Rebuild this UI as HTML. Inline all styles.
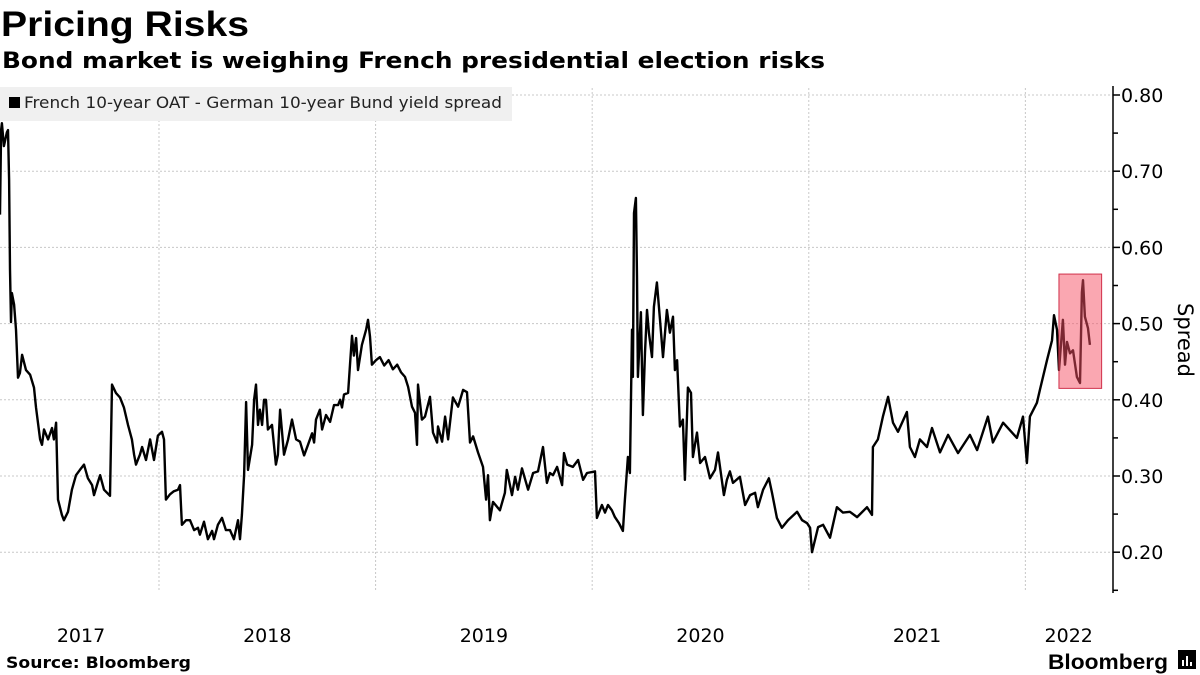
<!DOCTYPE html>
<html><head><meta charset="utf-8"><style>
body{margin:0;background:#fff;width:1200px;height:675px;overflow:hidden;font-family:"Liberation Sans",sans-serif}
svg{display:block}
</style></head><body>
<svg id="chart" width="1200" height="675">
<text x="1" y="36" font-size="35" font-weight="bold" font-family="Liberation Sans" textLength="248" lengthAdjust="spacingAndGlyphs">Pricing Risks</text>
<text x="2" y="68" font-size="22" font-weight="bold" font-family="DejaVu Sans" textLength="823" lengthAdjust="spacingAndGlyphs">Bond market is weighing French presidential election risks</text>
<g id="grid"></g>
<rect x="0" y="87" width="512" height="34" fill="#f0f0f0"/>
<rect x="9" y="97" width="11" height="11" fill="#000"/>
<text x="24" y="108" font-size="16" font-family="DejaVu Sans" fill="#222" textLength="478" lengthAdjust="spacingAndGlyphs">French 10-year OAT - German 10-year Bund yield spread</text>
<g id="marks"></g>
<g id="axis"></g>
<text transform="translate(1178,340) rotate(90)" font-size="21" text-anchor="middle" font-family="DejaVu Sans">Spread</text>
<text x="6" y="668" font-size="16" font-weight="bold" font-family="DejaVu Sans" textLength="185" lengthAdjust="spacingAndGlyphs">Source: Bloomberg</text>
<text x="1048" y="669" font-size="21" font-weight="bold" font-family="Liberation Sans" textLength="120" lengthAdjust="spacingAndGlyphs">Bloomberg</text>
<g>
<rect x="1178" y="650" width="18" height="19" fill="#000"/>
<rect x="1182" y="660" width="2" height="6" fill="#fff"/><rect x="1186" y="656" width="2" height="10" fill="#fff"/><rect x="1190" y="662" width="2" height="4" fill="#fff"/>
</g>
</svg>
<script>
const dates=[2017.266,2017.271,2017.275,2017.284,2017.298,2017.303,2017.308,2017.312,2017.317,2017.321,2017.331,2017.340,2017.349,2017.358,2017.368,2017.386,2017.405,2017.423,2017.432,2017.451,2017.460,2017.469,2017.488,2017.506,2017.515,2017.525,2017.534,2017.552,2017.561,2017.580,2017.598,2017.617,2017.635,2017.654,2017.672,2017.691,2017.700,2017.718,2017.728,2017.746,2017.774,2017.783,2017.801,2017.820,2017.838,2017.857,2017.875,2017.885,2017.894,2017.912,2017.922,2017.940,2017.959,2017.977,2017.995,2018.014,2018.023,2018.032,2018.051,2018.069,2018.088,2018.097,2018.106,2018.125,2018.143,2018.162,2018.180,2018.189,2018.208,2018.226,2018.245,2018.254,2018.272,2018.291,2018.309,2018.328,2018.346,2018.365,2018.374,2018.383,2018.393,2018.402,2018.411,2018.430,2018.439,2018.448,2018.457,2018.466,2018.476,2018.485,2018.494,2018.503,2018.522,2018.540,2018.549,2018.559,2018.577,2018.596,2018.614,2018.633,2018.651,2018.670,2018.688,2018.707,2018.716,2018.725,2018.743,2018.753,2018.771,2018.790,2018.808,2018.827,2018.836,2018.845,2018.854,2018.873,2018.882,2018.891,2018.900,2018.910,2018.919,2018.937,2018.956,2018.965,2018.974,2018.983,2019.002,2019.020,2019.040,2019.060,2019.080,2019.100,2019.118,2019.136,2019.150,2019.168,2019.182,2019.191,2019.196,2019.214,2019.228,2019.251,2019.265,2019.284,2019.288,2019.307,2019.321,2019.335,2019.357,2019.381,2019.404,2019.422,2019.436,2019.450,2019.473,2019.496,2019.510,2019.519,2019.528,2019.542,2019.574,2019.597,2019.606,2019.630,2019.644,2019.657,2019.676,2019.704,2019.727,2019.750,2019.773,2019.791,2019.805,2019.819,2019.838,2019.861,2019.870,2019.884,2019.911,2019.935,2019.958,2019.976,2020.013,2020.022,2020.045,2020.059,2020.073,2020.091,2020.105,2020.124,2020.142,2020.151,2020.165,2020.174,2020.184,2020.188,2020.193,2020.202,2020.207,2020.211,2020.225,2020.234,2020.244,2020.253,2020.262,2020.276,2020.285,2020.299,2020.313,2020.327,2020.345,2020.359,2020.373,2020.382,2020.392,2020.405,2020.419,2020.428,2020.442,2020.456,2020.465,2020.484,2020.498,2020.521,2020.544,2020.567,2020.581,2020.608,2020.622,2020.636,2020.650,2020.682,2020.706,2020.729,2020.752,2020.765,2020.789,2020.816,2020.830,2020.853,2020.876,2020.904,2020.946,2020.969,2020.992,2021.006,2021.015,2021.043,2021.066,2021.098,2021.130,2021.158,2021.190,2021.223,2021.269,2021.292,2021.296,2021.319,2021.342,2021.366,2021.389,2021.412,2021.453,2021.467,2021.490,2021.513,2021.546,2021.569,2021.606,2021.643,2021.689,2021.744,2021.777,2021.827,2021.850,2021.897,2021.961,2021.989,2022.007,2022.021,2022.053,2022.067,2022.100,2022.123,2022.132,2022.146,2022.155,2022.173,2022.183,2022.192,2022.206,2022.220,2022.238,2022.252,2022.261,2022.266,2022.275,2022.289,2022.298];
const spread=[0.643,0.754,0.763,0.733,0.751,0.754,0.689,0.571,0.502,0.540,0.525,0.492,0.429,0.435,0.459,0.439,0.433,0.416,0.390,0.348,0.341,0.361,0.348,0.363,0.348,0.370,0.269,0.249,0.242,0.253,0.282,0.301,0.308,0.315,0.297,0.288,0.275,0.292,0.301,0.282,0.274,0.420,0.409,0.403,0.390,0.367,0.348,0.328,0.315,0.328,0.338,0.321,0.348,0.321,0.353,0.358,0.348,0.269,0.276,0.280,0.282,0.288,0.236,0.242,0.242,0.229,0.232,0.223,0.240,0.217,0.228,0.217,0.236,0.245,0.229,0.229,0.217,0.242,0.217,0.249,0.301,0.397,0.308,0.341,0.400,0.420,0.367,0.387,0.367,0.400,0.400,0.361,0.367,0.315,0.328,0.387,0.328,0.348,0.374,0.348,0.345,0.327,0.341,0.356,0.344,0.374,0.387,0.361,0.380,0.371,0.393,0.393,0.400,0.390,0.407,0.409,0.446,0.484,0.458,0.481,0.439,0.472,0.492,0.505,0.483,0.446,0.452,0.456,0.445,0.452,0.440,0.446,0.436,0.430,0.417,0.391,0.383,0.341,0.420,0.374,0.378,0.404,0.357,0.344,0.365,0.345,0.378,0.348,0.403,0.391,0.413,0.410,0.344,0.352,0.331,0.312,0.269,0.301,0.242,0.266,0.255,0.278,0.308,0.275,0.299,0.282,0.310,0.282,0.304,0.306,0.338,0.291,0.304,0.301,0.312,0.288,0.330,0.315,0.312,0.321,0.295,0.304,0.306,0.245,0.262,0.252,0.262,0.255,0.246,0.238,0.228,0.269,0.325,0.304,0.492,0.430,0.645,0.665,0.561,0.430,0.515,0.380,0.462,0.518,0.488,0.456,0.522,0.554,0.505,0.456,0.518,0.488,0.509,0.439,0.452,0.365,0.374,0.295,0.416,0.409,0.325,0.357,0.317,0.325,0.297,0.308,0.331,0.275,0.295,0.306,0.291,0.299,0.262,0.275,0.278,0.259,0.282,0.297,0.278,0.245,0.232,0.242,0.253,0.242,0.238,0.232,0.200,0.233,0.236,0.219,0.259,0.252,0.253,0.246,0.259,0.249,0.338,0.348,0.378,0.404,0.370,0.358,0.384,0.338,0.325,0.348,0.338,0.363,0.331,0.354,0.330,0.354,0.334,0.378,0.344,0.370,0.350,0.378,0.317,0.378,0.396,0.413,0.452,0.478,0.511,0.492,0.439,0.505,0.446,0.476,0.461,0.465,0.430,0.422,0.541,0.557,0.509,0.494,0.472];
const yTicks=[0.20,0.30,0.40,0.50,0.60,0.70,0.80];
const yMinor=[0.15,0.25,0.35,0.45,0.55,0.65,0.75];
const yearTicks=[2018,2019,2020,2021,2022];
const yearLabels=["2017","2018","2019","2020","2021","2022"];
const yearLabelPos=[2017.64,2018.5,2019.5,2020.5,2021.5,2022.2];
const highlightRange=[2022.155,2022.352];
const highlightValues=[0.415,0.565];

const NS="http://www.w3.org/2000/svg";
const X0=2017.266, PX=216.6, AXX=1113;
const xs=d=>(d-X0)*PX;
const ys=v=>704.6-v*762;
function mk(tag,attrs,parent){const e=document.createElementNS(NS,tag);for(const k in attrs)e.setAttribute(k,attrs[k]);parent.appendChild(e);return e;}
const grid=document.getElementById('grid'),marks=document.getElementById('marks'),axis=document.getElementById('axis');
yTicks.forEach(v=>{
  const l=mk('line',{x1:0,x2:AXX,y1:ys(v),y2:ys(v),stroke:'#c8c8c8','stroke-dasharray':'2,2'},grid);
  
  
  const t=mk('line',{x1:AXX,x2:AXX+7,y1:ys(v),y2:ys(v),stroke:'#000','stroke-width':1.5},axis);
  
  
  const tx=mk('text',{x:AXX+8,y:ys(v)+7,'font-size':19,'font-family':'DejaVu Sans'},axis);
  tx.textContent=v.toFixed(2);
  
  
});
yMinor.forEach(v=>{
  const t=mk('line',{x1:AXX,x2:AXX+5,y1:ys(v),y2:ys(v),stroke:'#000','stroke-width':1.5},axis);
  
  
});
yearTicks.forEach(d=>{
  const l=mk('line',{x1:xs(d),x2:xs(d),y1:88,y2:592,stroke:'#c8c8c8','stroke-dasharray':'2,2'},grid);
  
  
});
yearLabels.forEach((s,i)=>{
  const t=mk('text',{x:xs(yearLabelPos[i]),y:642,'font-size':19,'text-anchor':'middle','font-family':'DejaVu Sans'},axis);
  t.textContent=s;
  
  
});
const ax=mk('line',{x1:AXX,x2:AXX,y1:86,y2:593,stroke:'#000','stroke-width':1.5},axis);


const path=mk('path',{d:dates.map((d,i)=>(i?'L':'M')+xs(d).toFixed(1)+','+ys(spread[i]).toFixed(1)).join(''),fill:'none',stroke:'#000','stroke-width':2.4,'stroke-linejoin':'round'},marks);


const hr=mk('rect',{x:xs(highlightRange[0]),y:ys(highlightValues[1]),width:xs(highlightRange[1])-xs(highlightRange[0]),height:ys(highlightValues[0])-ys(highlightValues[1]),fill:'rgba(245,80,100,0.5)',stroke:'#d0304a','stroke-width':1},marks);


</script>
</body></html>
